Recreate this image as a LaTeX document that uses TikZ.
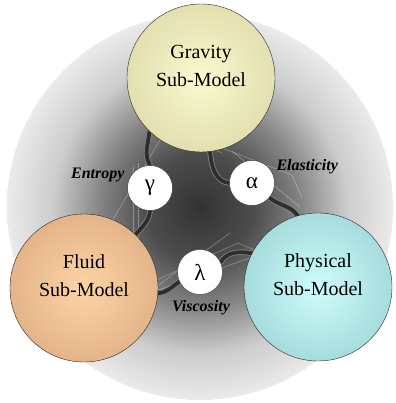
\documentclass[tikz,border=0pt]{standalone}
\usepackage{fontspec}
\setmainfont{Liberation Serif}
\usepackage{tikz}
\usetikzlibrary{positioning,calc,backgrounds}

\pgfdeclareradialshading{halo}{\pgfpoint{0bp}{0bp}}{%
  color(0bp)=(black!80); color(7bp)=(black!70); color(13bp)=(black!48);
  color(19bp)=(black!20); color(25bp)=(black!8); color(50bp)=(black!8)}

\begin{document}
\begin{tikzpicture}[x=1pt, y=1pt,
    model/.style={circle, draw=black!85, thin, minimum size=148pt, inner sep=0pt,
                  align=center, font=\fontsize{20}{28}\selectfont},
    coupling/.style={circle, draw=black!80, thin, fill=white, minimum size=45pt,
                     inner sep=0pt, font=\fontsize{23}{26}\selectfont},
    link/.style={line width=5.5pt, black!50, line cap=round},
    link_core/.style={line width=3.8pt, black!82, line cap=round},
    web/.style={white, opacity=0.3, line width=0.7pt},
    label_text/.style={font=\fontsize{16}{18}\selectfont\bfseries\itshape}
]
\useasboundingbox (0,0) rectangle (395,403);

% --- Sub-models ---
\node[model, inner color={rgb,255:red,250;green,250;blue,206}, outer color={rgb,255:red,226;green,223;blue,176}]
    (Grav) at (201,325) {Gravity\\Sub-Model\\[-4pt]};
\node[model, inner color={rgb,255:red,253;green,212;blue,166}, outer color={rgb,255:red,228;green,180;blue,136}]
    (Fluid) at (84,115) {Fluid\\Sub-Model\\[-4pt]};
\node[model, inner color={rgb,255:red,206;green,252;blue,252}, outer color={rgb,255:red,166;green,220;blue,220}]
    (Phys) at (318,116) {Physical\\Sub-Model\\[-4pt]};

% --- Coupling parameters ---
\node[coupling] (Gam) at (150,215) {γ};
\node[coupling] (Alp) at (252,220) {α};
\node[coupling] (Lam) at (200,131) {λ};

\node[label_text, anchor=east] (Ent) at (128,228) {Entropy};
\node[label_text, anchor=west] (Ela) at (273,236) {Elasticity};
\node[label_text] (Vis) at (201,95) {Viscosity};

\begin{scope}[on background layer]
    % Shaded backdrop
    \node[circle, minimum size=386pt, inner sep=0pt, shading=halo] (Back) at (200,196) {};

    % Faint web lines
    \draw[web] (160,263) -- (112,182) -- (128,150);
    \draw[web] (133,236) -- (133,160);
    \draw[web] (138,240) -- (138,150);
    \draw[web] (214,258) -- (292,228) -- (302,205);
    \draw[web] (232,252) -- (300,196);
    \draw[web] (170,272) -- (222,250);
    \draw[web] (150,120) -- (238,160) -- (262,150);
    \draw[web] (150,110) -- (250,145);
    \draw[web] (120,90) -- (230,170);

    % Couplings between the sub-models
    \foreach \s in {link, link_core} {
        \draw[\s] (Grav.226) to[out=-95, in=120] (Gam.north);
        \draw[\s] (Gam.south) to[out=-95, in=50] (Fluid.46);
        \draw[\s] (Grav.-83) to[out=-85, in=175] (Alp.west);
        \draw[\s] (Alp.-40) to[out=-40, in=125] (Phys.106);
        \draw[\s] (Fluid.-4) to[out=5, in=215] (Lam.205);
        \draw[\s] (Lam.25) to[out=60, in=170] (Phys.153);
    }
\end{scope}
\end{tikzpicture}
\end{document}
